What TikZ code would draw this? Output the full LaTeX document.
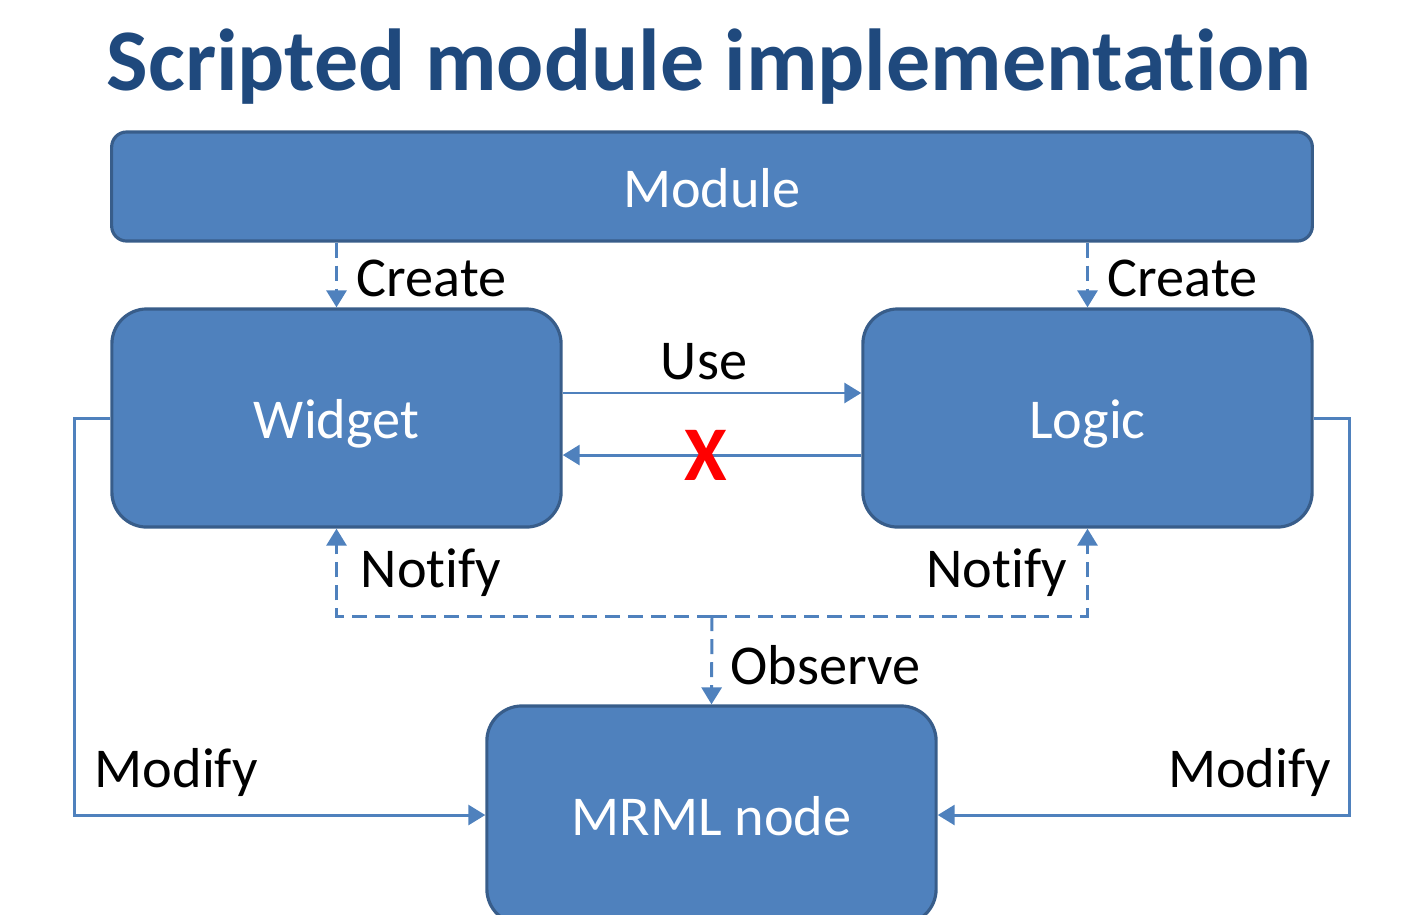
\documentclass[tikz,border=0pt]{standalone}
\usepackage{fontspec}
\setmainfont{Carlito}[Ligatures=NoCommon]
\usetikzlibrary{arrows.meta,positioning}
\definecolor{boxblue}{HTML}{4F81BD}
\definecolor{boxedge}{HTML}{385D8A}
\definecolor{titleblue}{HTML}{1F497D}

\begin{document}
\begin{tikzpicture}[
    x=0.01cm, y=-0.01cm,
    box/.style={draw=boxedge, line width=0.9pt, fill=boxblue, text=white, rounded corners=0.35cm, minimum width=4.49cm, minimum height=2.18cm, inner sep=0pt, text height=0.41cm, text depth=0pt, font=\fontsize{16}{19}\selectfont},
    arrow/.style={-{Triangle[length=0.17cm, width=0.2cm]}, draw=boxblue, line width=0.85pt},
    dashline/.style={dash pattern=on 0.15cm off 0.08cm},
    lbl/.style={inner sep=0pt, font=\fontsize{16}{19}\selectfont}
]
    \useasboundingbox (0,0) rectangle (1424,914);

    \node[anchor=base, text=titleblue, font=\bfseries\fontsize{25}{30}\selectfont] (title) at (709,90) {Scripted module implementation};

    \node[box, rounded corners=0.15cm, minimum width=12cm, minimum height=1.09cm] (module) at (712,186.5) {Module};
    \node[box] (widget) at (336.5,418) {Widget};
    \node[box] (logic) at (1087.5,418) {Logic};
    \node[box] (mrml) at (711.5,815) {MRML node};

    % create
    \draw[arrow, dashline] (module.south -| widget.north) -- (widget.north);
    \draw[arrow, dashline] (module.south -| logic.north) -- (logic.north);
    \node[lbl, anchor=base west] (createw) at (356,296) {Create};
    \node[lbl, anchor=base west] (createl) at (1107,296) {Create};

    % use / no way back
    \draw[arrow] ([yshift=0.25cm]widget.east) -- ([yshift=0.25cm]logic.west);
    \node[lbl, anchor=base] (use) at (704,379) {Use};
    \draw[arrow] ([yshift=-0.37cm]logic.east -| logic.west) -- ([yshift=-0.37cm]widget.east);
    \node[text=red, inner sep=0pt, font=\bfseries\fontsize{22}{26}\selectfont] (nox) at (706,455) {X};

    % observe / notify
    \coordinate (split) at (712,616);
    \draw[arrow, dashline] (split) -| (widget.south);
    \draw[arrow, dashline] (split) -| (logic.south);
    \draw[arrow, dashline] (split) -- (mrml.north);
    \node[lbl, anchor=base west] (notifyw) at (360,587) {Notify};
    \node[lbl, anchor=base east] (notifyl) at (1068,587) {Notify};
    \node[lbl, anchor=base west] (observe) at (730,684) {Observe};

    % modify
    \draw[arrow] (widget.west) -- ++(-36,0) |- (mrml.west);
    \draw[arrow] (logic.east) -- ++(36,0) |- (mrml.east);
    \node[lbl, anchor=base west] (modifyw) at (94,787) {Modify};
    \node[lbl, anchor=base east] (modifyl) at (1332,787) {Modify};
\end{tikzpicture}
\end{document}
